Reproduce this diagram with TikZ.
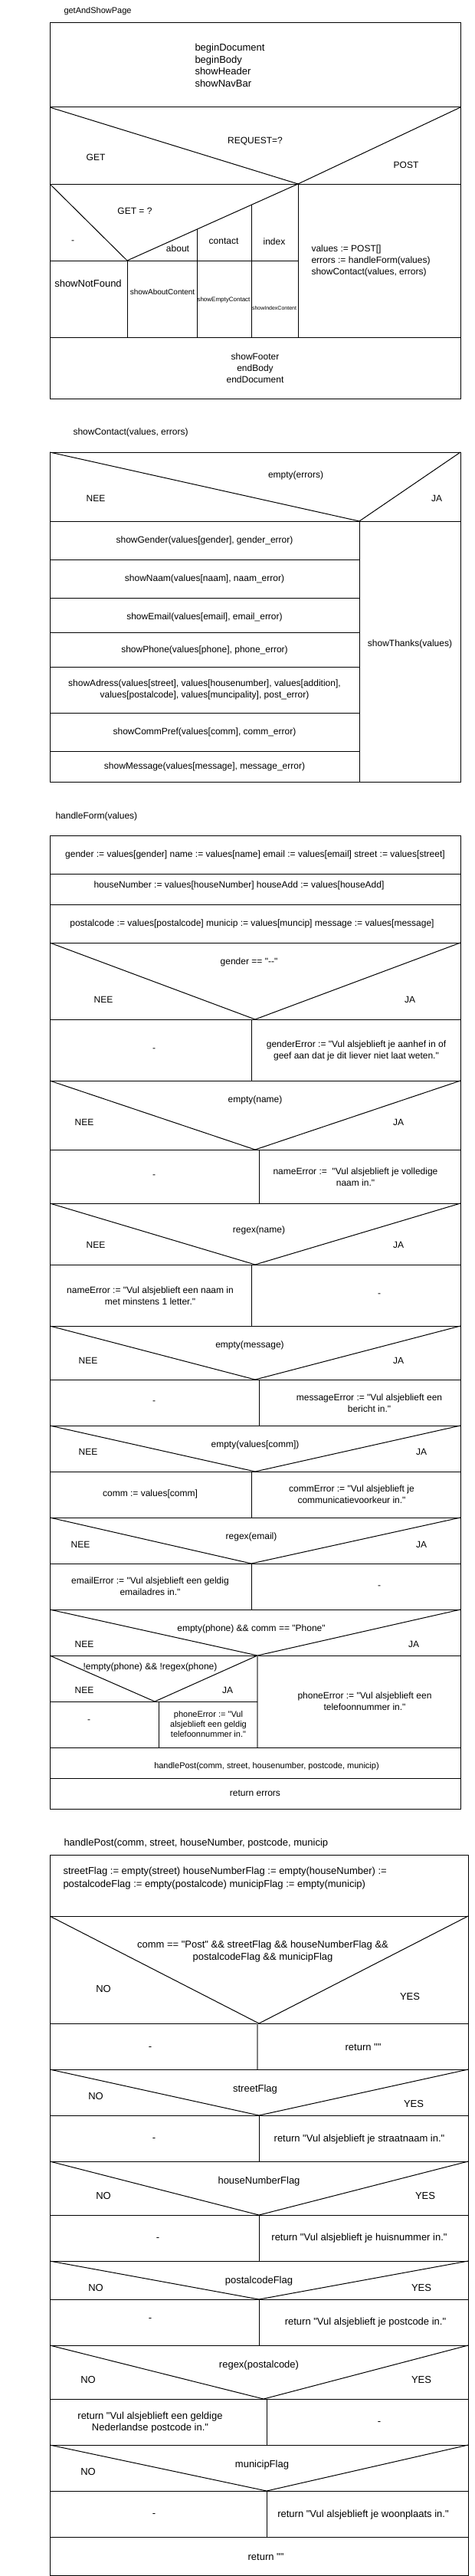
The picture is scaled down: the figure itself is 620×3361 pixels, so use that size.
\documentclass[tikz,border=0pt]{standalone}
\usepackage{fontspec}
\setmainfont{Liberation Sans}[Ligatures=TeXOff]
\usetikzlibrary{positioning}

\begin{document}
\begin{tikzpicture}[x=1pt,y=-1pt,line width=1pt,
		every node/.style={inner sep=0pt,align=center,font=\fontsize{12}{15}\selectfont},
		title/.style={anchor=west},
		big/.style={font=\fontsize{13}{15.7}\selectfont},
		small/.style={font=\fontsize{11}{13}\selectfont},
		greyline/.style={draw=gray,line width=1.3pt}]
	\useasboundingbox (0,0) rectangle (620,3361);

	\node[title,small] (ttlpage) at (83,15) {getAndShowPage};
	\draw (65,30) rectangle (601,520);
	\foreach \y in {140,240,440} \draw (65,\y) -- (601,\y);
	\draw (65,140) -- (389,240) -- (601,140);
	\draw (389,240) -- (389,440);
	\draw (65,240) -- (166,340) -- (389,240);
	\draw (65,340) -- (389,340);
	\foreach \x/\t in {166/340,257/299.2,328/267.4} \draw (\x,\t) -- (\x,440);
	\node[big,anchor=west,align=left] (init) at (254,85.5) {beginDocument\\beginBody\\showHeader\\showNavBar};
	\node (request) at (333,184) {REQUEST=?};
	\node (get) at (125,205) {GET};
	\node (post) at (530,215) {POST};
	\node (getq) at (176,275) {GET = ?};
	\node (cdefault) at (95,316) {-};
	\node (cabout) at (232,324) {about};
	\node (ccontact) at (292,315) {contact};
	\node (cindex) at (358,315) {index};
	\node[big] (notfound) at (115,370) {showNotFound};
	\node[font=\fontsize{10}{12}\selectfont] (aboutc) at (212,381) {showAboutContent};
	\node[font=\fontsize{8}{10}\selectfont] (emptyc) at (292,391) {showEmptyContact};
	\node[font=\fontsize{7}{9}\selectfont] (indexc) at (358,402) {showIndexContent};
	\node[anchor=west,align=left] (postblk) at (406,340) {values := POST[]\\errors := handleForm(values)\\showContact(values, errors)};
	\node (footer) at (333,480) {showFooter\\endBody\\endDocument};

	\node[title] (ttlcontact) at (95,564) {showContact(values, errors)};
	\draw (65,590) rectangle (601,1020);
	\draw (65,590) -- (469,680) -- (601,590);
	\draw (65,680) -- (601,680);
	\draw (469,680) -- (469,1020);
	\foreach \y in {730,780,825,870,930,980} \draw (65,\y) -- (469,\y);
	\node (errcond) at (386,620) {empty(errors)};
	\node (errno) at (125,650) {NEE};
	\node (erryes) at (570,650) {JA};
	\node (sgender) at (267,705) {showGender(values[gender], gender\_error)};
	\node (snaam) at (267,755) {showNaam(values[naam], naam\_error)};
	\node (semail) at (267,805) {showEmail(values[email], email\_error)};
	\node (sphone) at (267,848) {showPhone(values[phone], phone\_error)};
	\node (sadres) at (267,900) {showAdress(values[street], values[housenumber], values[addition],\\values[postalcode], values[muncipality], post\_error)};
	\node (scomm) at (267,955) {showCommPref(values[comm], comm\_error)};
	\node (smessage) at (267,1000) {showMessage(values[message], message\_error)};
	\node (sthanks) at (535,840) {showThanks(values)};

	\node[title] (ttlform) at (72,1065) {handleForm(values)};
	\draw (65,1090) rectangle (601,2360);
	\foreach \y in {1140,1180,1230,1330,1410,1500,1570,1650,1730,1800,1860,1920,1980,2040,2100,2160,2280,2320}
		\draw (65,\y) -- (601,\y);
	\foreach \t/\b/\a in {1230/1330/333,1410/1500/333,1570/1650/333,1730/1800/333,1860/1920/333,1980/2040/328,2100/2160/336}
		\draw (65,\t) -- (\a,\b) -- (601,\t);
	\foreach \x/\t/\b in {328/1330/1410,338/1500/1570,328/1650/1730,338/1800/1860,328/1920/1980,328/2040/2100}
		\draw (\x,\t) -- (\x,\b);
	\draw[greyline] (336,2160) -- (336,2280);
	\draw (65,2160) -- (202,2220) -- (336,2160);
	\draw (65,2220) -- (336,2220);
	\draw (207,2220) -- (207,2280);
	\node (fa) at (333,1115) {gender := values[gender] name := values[name] email := values[email] street := values[street]};
	\node (fb) at (312,1155) {houseNumber := values[houseNumber] houseAdd := values[houseAdd]};
	\node (fc) at (329,1205) {postalcode := values[postalcode] municip := values[muncip] message := values[message]};
	\node (gcond) at (325,1255) {gender == "--"};
	\node (gno) at (135,1304) {NEE};
	\node (gyes) at (535,1304) {JA};
	\node (gleft) at (201,1370) {-};
	\node (gright) at (465,1370.5) {genderError := "Vul alsjeblieft je aanhef in of\\geef aan dat je dit liever niet laat weten."};
	\node (ncond) at (333,1435) {empty(name)};
	\node (nno) at (110,1464) {NEE};
	\node (nyes) at (520,1464) {JA};
	\node (nleft) at (201,1535) {-};
	\node (nright) at (464,1535.5) {nameError :=~ "Vul alsjeblieft je volledige\\naam in."};
	\node (rcond) at (338,1605) {regex(name)};
	\node (rno) at (125,1624) {NEE};
	\node (ryes) at (520,1624) {JA};
	\node (rleft) at (196,1690.5) {nameError := "Vul alsjeblieft een naam in\\met minstens 1 letter."};
	\node (rright) at (495,1690) {-};
	\node (mcond) at (326,1755) {empty(message)};
	\node (mno) at (115,1775) {NEE};
	\node (myes) at (520,1775) {JA};
	\node (mleft) at (201,1830) {-};
	\node (mright) at (482,1830.5) {messageError := "Vul alsjeblieft een\\bericht in."};
	\node (ccond) at (333,1885) {empty(values[comm])};
	\node (cno) at (115,1894) {NEE};
	\node (cyes) at (550,1894) {JA};
	\node (cleft) at (196,1949) {comm := values[comm]};
	\node (cright) at (459,1950) {commError := "Vul alsjeblieft je\\communicatievoorkeur in."};
	\node (econd) at (328,2005) {regex(email)};
	\node (eno) at (105,2015) {NEE};
	\node (eyes) at (550,2015) {JA};
	\node (eleft) at (196,2070) {emailError := "Vul alsjeblieft een geldig\\emailadres in."};
	\node (eright) at (495,2071) {-};
	\node (pcond) at (328,2125) {empty(phone) \&\& comm == "Phone"};
	\node (pno) at (110,2145) {NEE};
	\node (pyes) at (540,2145) {JA};
	\node (qcond) at (196,2175) {!empty(phone) \&\& !regex(phone)};
	\node (qno) at (110,2205) {NEE};
	\node (qyes) at (297,2205) {JA};
	\node (qleft) at (116,2246) {-};
	\node[small] (qright) at (272,2250) {phoneError := "Vul\\alsjeblieft een geldig\\telefoonnummer in."};
	\node (pright) at (476,2220) {phoneError := "Vul alsjeblieft een\\telefoonnummer in."};
	\node[small] (callpost) at (348,2305) {handlePost(comm, street, housenumber, postcode, municip)};
	\node (reterr) at (333,2340) {return errors};

	\node[title,big] (ttlpost) at (83,2405) {handlePost(comm, street, houseNumber, postcode, municip};
	\draw (65,2420) rectangle (611,3360);
	\foreach \y in {2500,2640,2700,2760,2820,2890,2950,3000,3060,3130,3190,3250,3310}
		\draw (65,\y) -- (611,\y);
	\foreach \t/\b/\a in {2500/2640/338,2700/2760/338,2820/2890/338,2950/3000/338,3060/3130/344,3190/3250/348}
		\draw (65,\t) -- (\a,\b) -- (611,\t);
	\foreach \x/\t/\b in {338/2760/2820,338/2890/2950,338/3000/3060,348/3130/3190,348/3250/3310}
		\draw (\x,\t) -- (\x,\b);
	\draw[greyline] (336,2640) -- (336,2700);
	\node[anchor=west,align=left,font=\fontsize{13}{16.7}\selectfont] (flags) at (82,2450.5) {streetFlag := empty(street) houseNumberFlag := empty(houseNumber) :=\\postalcodeFlag := empty(postalcode) municipFlag := empty(municip)};
	\node[font=\fontsize{13}{16}\selectfont] (allcond) at (343,2546) {comm == "Post" \&\& streetFlag \&\& houseNumberFlag \&\&\\postalcodeFlag \&\& municipFlag};
	\node[big] (allno) at (135,2595) {NO};
	\node[big] (allyes) at (535,2605) {YES};
	\node[big] (allleft) at (196,2672) {-};
	\node[big] (allright) at (474,2671) {return ""};
	\node[big] (scond) at (333,2726) {streetFlag};
	\node[big] (sno) at (125,2735) {NO};
	\node[big] (syes) at (540,2745) {YES};
	\node[big] (sleft) at (201,2791) {-};
	\node[big] (sright) at (469,2791) {return "Vul alsjeblieft je straatnaam in."};
	\node[big] (hcond) at (338,2846) {houseNumberFlag};
	\node[big] (hno) at (135,2865) {NO};
	\node[big] (hyes) at (555,2865) {YES};
	\node[big] (hleft) at (206,2921) {-};
	\node[big] (hright) at (469,2920) {return "Vul alsjeblieft je huisnummer in."};
	\node[big] (kcond) at (338,2976) {postalcodeFlag};
	\node[big] (kno) at (125,2985) {NO};
	\node[big] (kyes) at (550,2985) {YES};
	\node[big] (kleft) at (196,3026) {-};
	\node[big] (kright) at (477,3030) {return "Vul alsjeblieft je postcode in."};
	\node[big] (xcond) at (338,3086) {regex(postalcode)};
	\node[big] (xno) at (115,3105) {NO};
	\node[big] (xyes) at (550,3105) {YES};
	\node[big] (xleft) at (196,3160.5) {return "Vul alsjeblieft een geldige\\Nederlandse postcode in."};
	\node[big] (xright) at (495,3161) {-};
	\node[big] (wcond) at (342,3216) {municipFlag};
	\node[big] (wno) at (115,3225) {NO};
	\node[big] (wleft) at (201,3281) {-};
	\node[big] (wright) at (474,3281) {return "Vul alsjeblieft je woonplaats in."};
	\node[big] (retend) at (347,3336) {return ""};
\end{tikzpicture}
\end{document}
